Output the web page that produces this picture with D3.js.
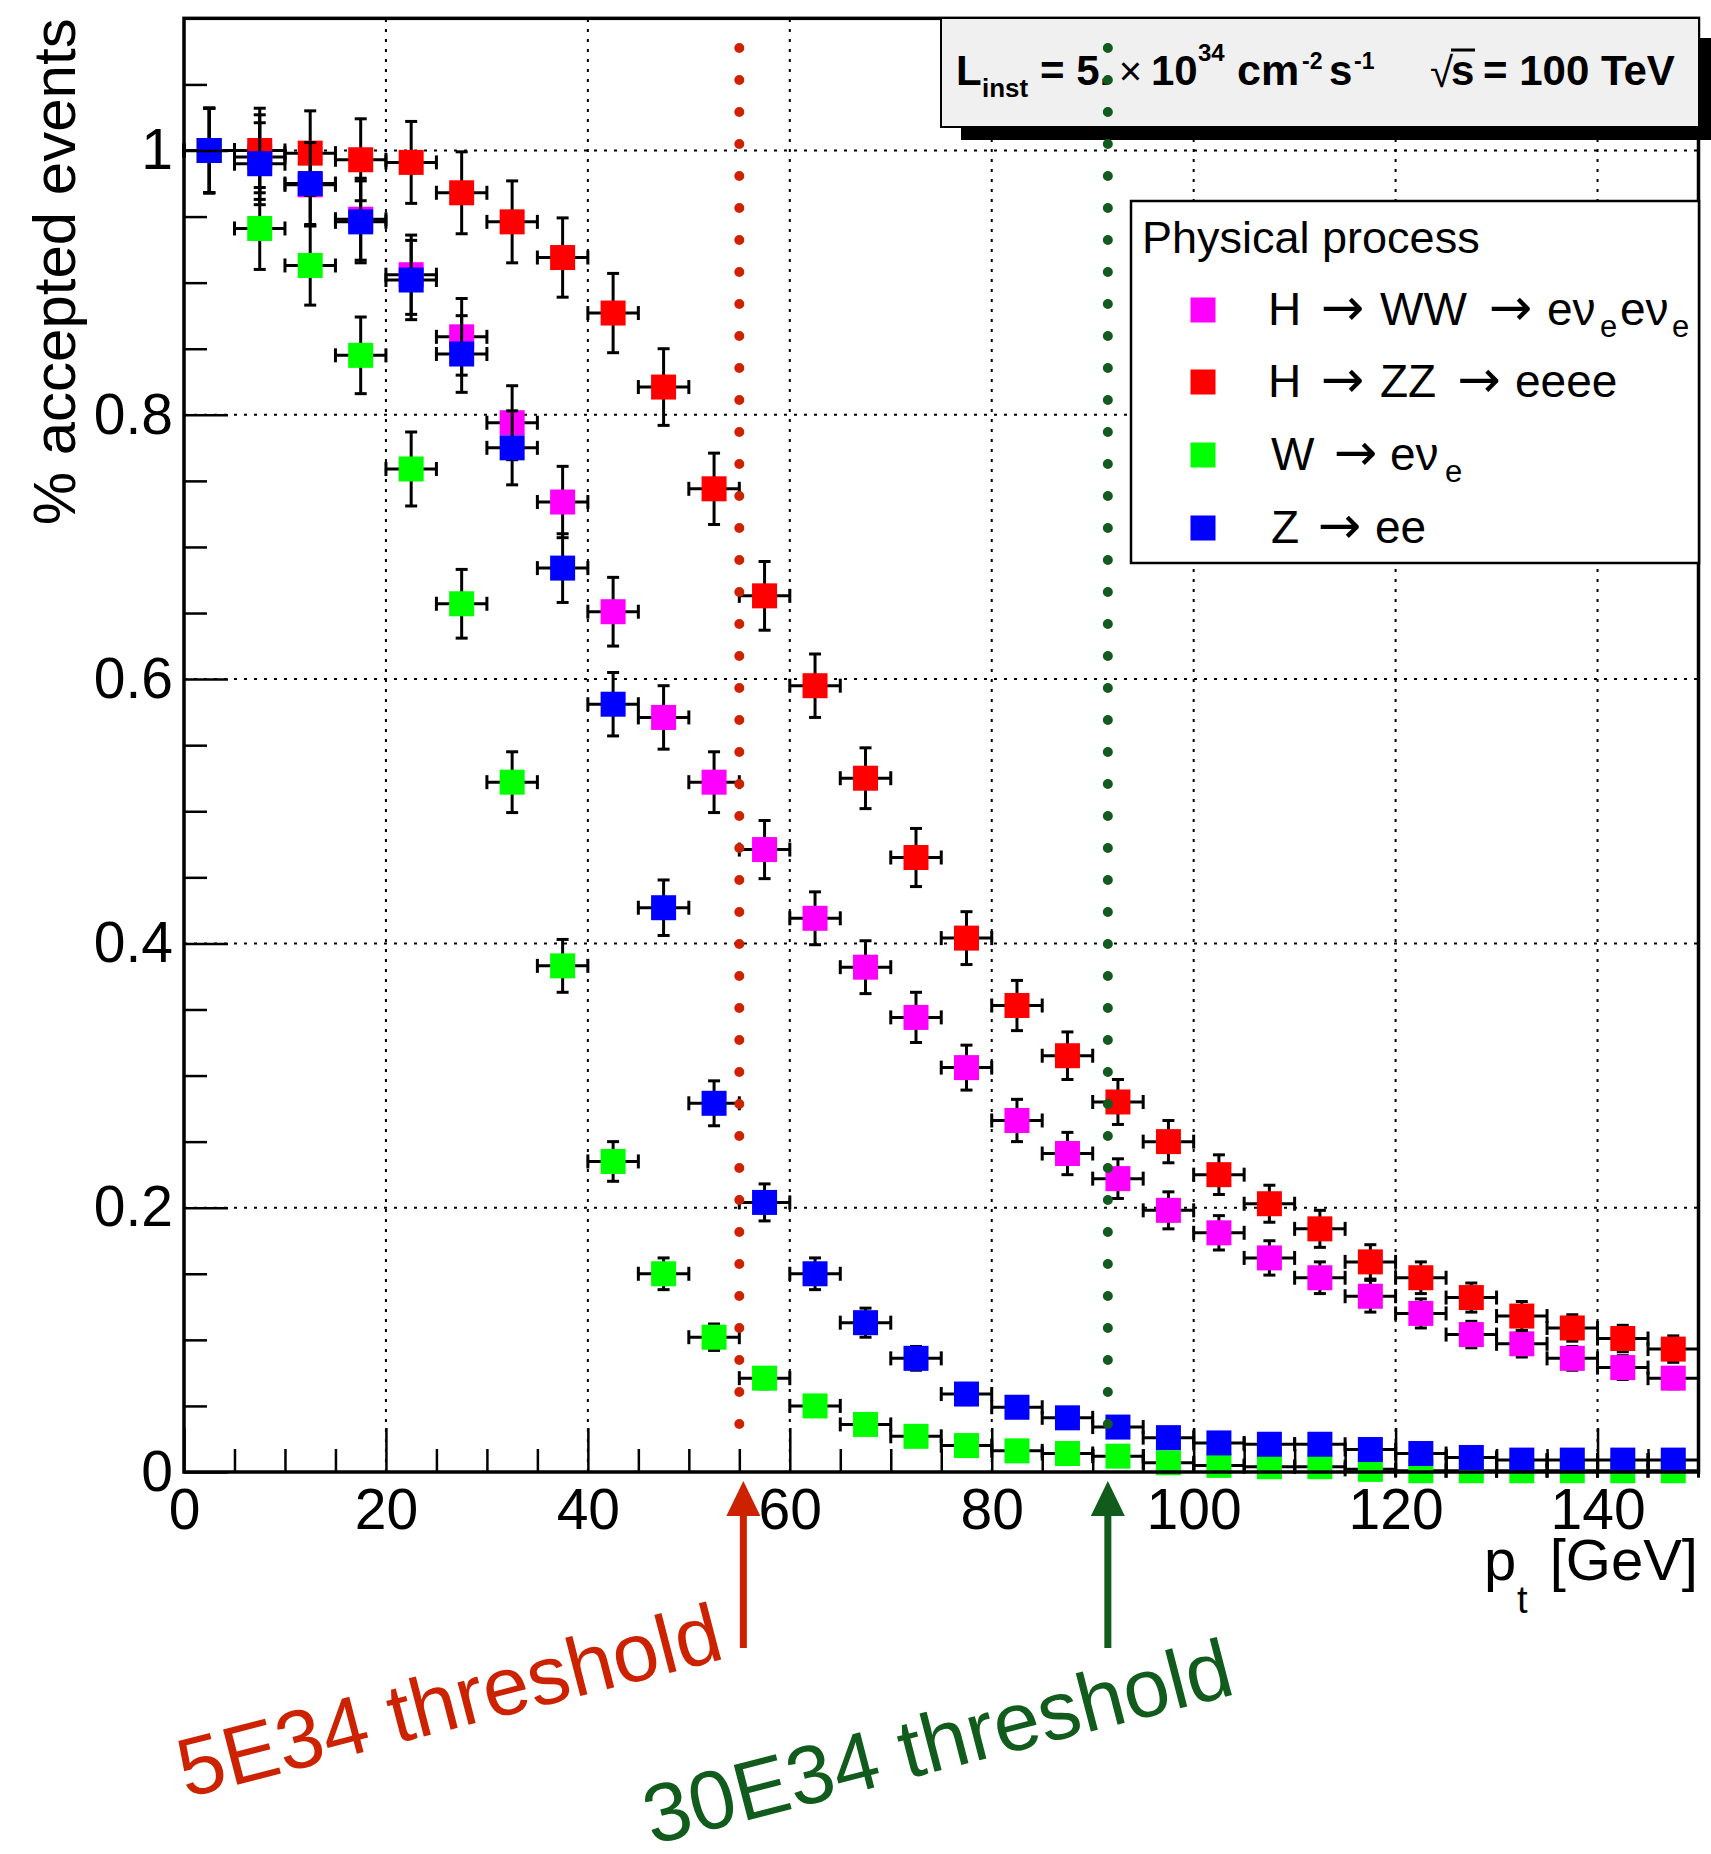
<!DOCTYPE html>
<html>
<head>
<meta charset="UTF-8">
<title>accepted events vs pt</title>
<script src="https://d3js.org/d3.v7.min.js"></script>
<style>
  body { margin: 0; background: #fff; }
  svg { display: block; }
</style>
</head>
<body>
<svg width="1711" height="1854"></svg>
<script>
// bin centres (GeV), bins are 5 GeV wide
var ptBins = [2.5, 7.5, 12.5, 17.5, 22.5, 27.5, 32.5, 37.5, 42.5, 47.5,
              52.5, 57.5, 62.5, 67.5, 72.5, 77.5, 82.5, 87.5, 92.5, 97.5,
              102.5, 107.5, 112.5, 117.5, 122.5, 127.5, 132.5, 137.5, 142.5, 147.5];
var binHalfWidth = 2.5;

// H -> WW -> e nu e nu
var hww    = [1.0, 0.995, 0.974, 0.948, 0.906, 0.859, 0.794, 0.734, 0.651, 0.571,
              0.522, 0.471, 0.419, 0.382, 0.344, 0.306, 0.266, 0.241, 0.222, 0.198,
              0.181, 0.162, 0.147, 0.133, 0.120, 0.104, 0.097, 0.086, 0.079, 0.071];
var hwwErr = [0.032, 0.032, 0.031, 0.031, 0.030, 0.029, 0.028, 0.027, 0.026, 0.024,
              0.023, 0.022, 0.020, 0.020, 0.019, 0.017, 0.016, 0.016, 0.015, 0.014,
              0.013, 0.013, 0.012, 0.012, 0.011, 0.010, 0.010, 0.009, 0.009, 0.008];
// H -> ZZ -> eeee
var hzz    = [1.0, 1.0, 0.998, 0.993, 0.991, 0.968, 0.946, 0.919, 0.877, 0.821,
              0.744, 0.663, 0.595, 0.525, 0.465, 0.404, 0.353, 0.315, 0.280, 0.250,
              0.225, 0.203, 0.184, 0.159, 0.147, 0.132, 0.118, 0.109, 0.101, 0.093];
var hzzErr = [0.032, 0.032, 0.032, 0.031, 0.031, 0.031, 0.031, 0.030, 0.030, 0.029,
              0.027, 0.026, 0.024, 0.023, 0.022, 0.020, 0.019, 0.018, 0.017, 0.016,
              0.015, 0.014, 0.014, 0.013, 0.012, 0.011, 0.011, 0.010, 0.010, 0.010];
// W -> e nu
var wen    = [1.0, 0.941, 0.913, 0.845, 0.759, 0.657, 0.522, 0.383, 0.235, 0.150,
              0.102, 0.071, 0.050, 0.036, 0.027, 0.020, 0.016, 0.014, 0.012, 0.007,
              0.005, 0.004, 0.004, 0.002, 0.001, 0.001, 0.001, 0.001, 0.001, 0.001];
var wenErr = [0.032, 0.031, 0.030, 0.029, 0.028, 0.026, 0.023, 0.020, 0.015, 0.012,
              0.010, 0.008, 0.007, 0.006, 0.005, 0.004, 0.004, 0.004, 0.003, 0.003,
              0.002, 0.002, 0.002, 0.001, 0.001, 0.001, 0.001, 0.001, 0.001, 0.001];
// Z -> ee
var zee    = [1.0, 0.990, 0.975, 0.946, 0.902, 0.846, 0.775, 0.684, 0.581, 0.427,
              0.279, 0.204, 0.150, 0.113, 0.086, 0.059, 0.049, 0.041, 0.034, 0.026,
              0.022, 0.021, 0.021, 0.017, 0.014, 0.011, 0.009, 0.009, 0.009, 0.009];
var zeeErr = [0.032, 0.031, 0.031, 0.031, 0.030, 0.029, 0.028, 0.026, 0.024, 0.021,
              0.017, 0.014, 0.012, 0.011, 0.009, 0.008, 0.007, 0.006, 0.006, 0.005,
              0.005, 0.005, 0.005, 0.004, 0.004, 0.003, 0.003, 0.003, 0.003, 0.003];

var xTicks = [0, 20, 40, 60, 80, 100, 120, 140];
var xTickLabels = ["0", "20", "40", "60", "80", "100", "120", "140"];
var yTicks = [0, 0.2, 0.4, 0.6, 0.8, 1.0];
var yTickLabels = ["0", "0.2", "0.4", "0.6", "0.8", "1"];

// trigger thresholds on pt (GeV)
var thresholdPt = [55, 91.5];
var thresholdArrowPt = [55.4, 91.5];
var thresholdText = ["5E34 threshold", "30E34 threshold"];
var thresholdColor = ["#cc2200", "#115c1c"];

var font = "'Liberation Sans', Arial, Helvetica, sans-serif";
var svg = d3.select("svg");

var x = d3.scaleLinear().domain([0, 150]).range([184, 1698.5]);
var y = d3.scaleLinear().domain([0, 1.1]).range([1472, 18.35]);

var series = [
    {values: hww, errors: hwwErr, color: "#ff00ff"},
    {values: hzz, errors: hzzErr, color: "#ff0000"},
    {values: wen, errors: wenErr, color: "#00ff00"},
    {values: zee, errors: zeeErr, color: "#0000ff"}
];

// grid
var grid = svg.append("g")
    .attr("stroke", "#000")
    .attr("stroke-width", 2)
    .attr("stroke-dasharray", "3,7");
grid.selectAll("line.vx")
    .data(xTicks.filter(function(d) { return d > 0; }))
    .enter().append("line")
    .attr("x1", function(d) { return x(d); })
    .attr("x2", function(d) { return x(d); })
    .attr("y1", y(0)).attr("y2", y(1.1));
grid.selectAll("line.hy")
    .data(yTicks.filter(function(d) { return d > 0; }))
    .enter().append("line")
    .attr("y1", function(d) { return y(d); })
    .attr("y2", function(d) { return y(d); })
    .attr("x1", x(0)).attr("x2", x(150));

// points with error bars
var cap = 6, ms = 25;
series.forEach(function(s) {
    var pts = ptBins.map(function(p, i) { return {pt: p, v: s.values[i], e: s.errors[i]}; });
    var g = svg.append("g");
    var eb = g.append("g").attr("stroke", "#000").attr("stroke-width", 3);
    pts.forEach(function(d) {
        var cx = x(d.pt), cy = y(d.v);
        var xl = x(d.pt - binHalfWidth), xr = x(d.pt + binHalfWidth);
        var yt = y(d.v + d.e), yb = y(d.v - d.e);
        eb.append("line").attr("x1", xl).attr("x2", xr).attr("y1", cy).attr("y2", cy);
        eb.append("line").attr("x1", xl).attr("x2", xl).attr("y1", cy - cap - 1).attr("y2", cy + cap + 1);
        eb.append("line").attr("x1", xr).attr("x2", xr).attr("y1", cy - cap - 1).attr("y2", cy + cap + 1);
        if (yb - yt > 2) {
            eb.append("line").attr("x1", cx).attr("x2", cx).attr("y1", yt).attr("y2", yb);
            eb.append("line").attr("x1", cx - cap).attr("x2", cx + cap).attr("y1", yt).attr("y2", yt);
            eb.append("line").attr("x1", cx - cap).attr("x2", cx + cap).attr("y1", yb).attr("y2", yb);
        }
    });
    g.selectAll("rect")
        .data(pts)
        .enter().append("rect")
        .attr("x", function(d) { return x(d.pt) - ms / 2; })
        .attr("y", function(d) { return y(d.v) - ms / 2; })
        .attr("width", ms).attr("height", ms)
        .attr("fill", s.color);
});

// axes
function styleAxis(g, w) {
    g.select(".domain").remove();
    g.selectAll(".tick line").attr("stroke", "#000").attr("stroke-width", w);
    g.selectAll(".tick text").attr("font-family", font).attr("font-size", 57).attr("fill", "#000");
}
function dropText(g) { g.selectAll(".tick text").remove(); }
var xMinor = d3.range(5, 150, 5).filter(function(d) { return d % 20 !== 0; });
var yMinor = d3.range(1, 22).map(function(i) { return i * 0.05; }).filter(function(d, i) { return (i + 1) % 4 !== 0; });

svg.append("g").attr("transform", "translate(0," + y(0) + ")")
    .call(d3.axisBottom(x).tickValues(xMinor).tickSize(-23))
    .call(styleAxis, 2.5).call(dropText);
svg.append("g").attr("transform", "translate(0," + y(0) + ")")
    .call(d3.axisBottom(x).tickValues(xTicks).tickSize(-44).tickPadding(17)
        .tickFormat(function(d, i) { return xTickLabels[i]; }))
    .call(styleAxis, 2.5);
svg.append("g").attr("transform", "translate(" + x(0) + ",0)")
    .call(d3.axisLeft(y).tickValues(yMinor).tickSize(-23))
    .call(styleAxis, 2.5).call(dropText);
svg.append("g").attr("transform", "translate(" + x(0) + ",0)")
    .call(d3.axisLeft(y).tickValues(yTicks).tickSize(-44).tickPadding(11)
        .tickFormat(function(d, i) { return yTickLabels[i]; }))
    .call(styleAxis, 2.5);

svg.append("rect")
    .attr("x", x(0)).attr("y", y(1.1))
    .attr("width", x(150) - x(0)).attr("height", y(0) - y(1.1))
    .attr("fill", "none").attr("stroke", "#000").attr("stroke-width", 3.5);

// axis titles
svg.append("text")
    .attr("transform", "translate(75," + y(1.1) + ") rotate(-90)")
    .attr("text-anchor", "end")
    .attr("font-family", font).attr("font-size", 60)
    .text("% accepted events");

function seg(g, str, px, py, size, opt) {
    opt = opt || {};
    return g.append("text")
        .attr("x", px).attr("y", py)
        .attr("font-family", opt.family || font).attr("font-size", size)
        .attr("font-weight", opt.bold ? "bold" : "normal")
        .attr("text-anchor", opt.anchor || "start")
        .attr("fill", opt.fill || "#000")
        .text(str);
}
var xt = svg.append("g");
seg(xt, "p", 1484, 1580, 58);
seg(xt, "t", 1517, 1613, 38);
seg(xt, "[GeV]", 1698, 1580, 58, {anchor: "end"});

// info box with shadow
var info = svg.append("g");
info.append("rect").attr("x", 961).attr("y", 38).attr("width", 760).attr("height", 102).attr("fill", "#000");
info.append("rect").attr("x", 941).attr("y", 18).attr("width", 758).attr("height", 109)
    .attr("fill", "#f0f0f0").attr("stroke", "#000").attr("stroke-width", 2);
var B = {bold: true};
seg(info, "L", 956, 85, 42, B);
seg(info, "inst", 982, 97, 26, B);
seg(info, "= 5.", 1040, 85, 42, B);
seg(info, "\u00d7", 1130.5, 85, 40, {anchor: "middle"});
seg(info, "10", 1151, 85, 42, B);
seg(info, "34", 1198, 61, 24, B);
seg(info, "cm", 1237, 85, 43, B);
seg(info, "-2", 1302, 69, 23, B);
seg(info, "s", 1329, 85, 42, B);
seg(info, "-1", 1354, 69, 23, B);
seg(info, "\u221a", 1430, 87, 42);
info.append("line").attr("x1", 1451).attr("x2", 1475).attr("y1", 50).attr("y2", 50)
    .attr("stroke", "#000").attr("stroke-width", 3);
seg(info, "s", 1451, 85, 42, B);
seg(info, "= 100 TeV", 1483, 85, 42, B);

// legend
var legendColors = ["#ff00ff", "#ff0000", "#00ff00", "#0000ff"];
var legendRowY = [310, 382, 455, 528];
var legendRows = [
    [["H", 1268, 0], ["\u2192", 1342.5, 2], ["WW", 1380, 0], ["\u2192", 1510.5, 2],
     ["e\u03bd", 1547, 0], ["e", 1600, 1], ["e\u03bd", 1620, 0], ["e", 1672, 1]],
    [["H", 1268, 0], ["\u2192", 1342.5, 2], ["ZZ", 1380, 0], ["\u2192", 1479, 2],
     ["eeee", 1515, 0]],
    [["W", 1271, 0], ["\u2192", 1355.5, 2], ["e\u03bd", 1390, 0], ["e", 1445, 1]],
    [["Z", 1271, 0], ["\u2192", 1339.5, 2], ["ee", 1375, 0]]
];
var leg = svg.append("g");
leg.append("rect").attr("x", 1131).attr("y", 201).attr("width", 568).attr("height", 362)
    .attr("fill", "#fff").attr("stroke", "#000").attr("stroke-width", 2.5);
seg(leg, "Physical process", 1142, 253, 45);
legendRows.forEach(function(row, i) {
    var cy = legendRowY[i];
    leg.append("rect").attr("x", 1203 - ms / 2).attr("y", cy - ms / 2)
        .attr("width", ms).attr("height", ms).attr("fill", legendColors[i]);
    row.forEach(function(p) {
        if (p[2] === 1) seg(leg, p[0], p[1], cy + 27, 31);
        else if (p[2] === 2) seg(leg, p[0], p[1], cy + 15, 52, {anchor: "middle", family: "'DejaVu Sans', sans-serif"});
        else seg(leg, p[0], p[1], cy + 15, 46);
    });
});

// threshold markers
thresholdPt.forEach(function(t, i) {
    var c = thresholdColor[i];
    svg.append("line")
        .attr("x1", x(t)).attr("x2", x(t))
        .attr("y1", y(1.0775)).attr("y2", y(0.034))
        .attr("stroke", c).attr("stroke-width", 10)
        .attr("stroke-linecap", "round").attr("stroke-dasharray", "0,32");
    var ax = x(thresholdArrowPt[i]);
    svg.append("path")
        .attr("d", "M" + ax + ",1481 L" + (ax + 17) + ",1516 L" + (ax + 3.5) + ",1516 L" + (ax + 3.5) + ",1648 L" +
            (ax - 3.5) + ",1648 L" + (ax - 3.5) + ",1516 L" + (ax - 17) + ",1516 Z")
        .attr("fill", c);
});
svg.append("text")
    .attr("transform", "translate(186,1798) rotate(-14.5)")
    .attr("font-family", font).attr("font-size", 83).attr("fill", thresholdColor[0])
    .text(thresholdText[0]);
svg.append("text")
    .attr("transform", "translate(652,1845) rotate(-14.5)")
    .attr("font-family", font).attr("font-size", 83).attr("fill", thresholdColor[1])
    .text(thresholdText[1]);
</script>
</body>
</html>
